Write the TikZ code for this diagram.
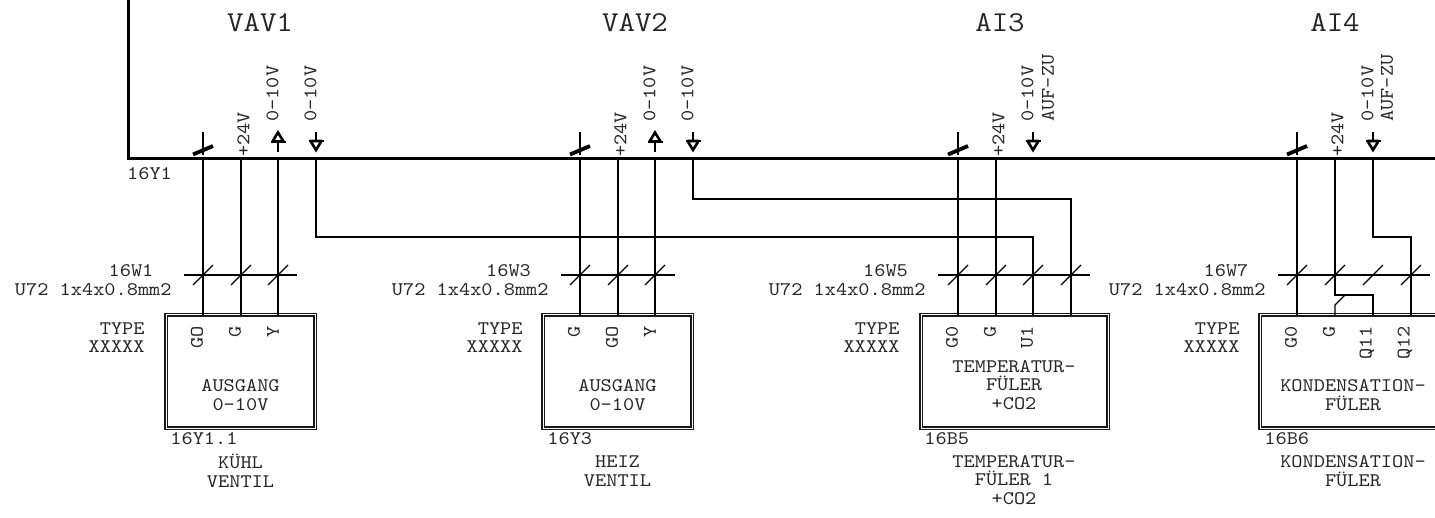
\documentclass[tikz,border=0pt]{standalone}
\usepackage{fontspec}
\setmonofont{Latin Modern Mono}[FakeStretch=1.11]
\usepackage{tikz}
\usetikzlibrary{calc, positioning}

\tikzset{
	gnd/.pic = {\draw[line width=0.9pt] (0,-27) -- (0,-4); \draw[line width=1.9pt] (-10,-4.5) -- (10,-13);},
	arrup/.pic = {\draw[wire] (0,-7) -- (0,-17); \draw[line width=1.3pt, fill=white, miter limit=2] (0,-26.5) -- (5.5,-17.5) -- (-5.5,-17.5) -- cycle; \draw[line width=1pt] (-7.5,-17) -- (7.5,-17);},
	arrdn/.pic = {\draw[wire] (0,-27) -- (0,-18); \draw[line width=1.3pt, fill=white, miter limit=2] (0,-9) -- (5.5,-18) -- (-5.5,-18) -- cycle; \draw[line width=1pt] (-7.5,-18) -- (7.5,-18);},
	slash/.pic = {\draw[thin wire] (-10,10) -- (10,-10);}
}

\begin{document}
\begin{tikzpicture}[x=0.5pt, y=-0.5pt]
	\tikzstyle{wire} = [line width=0.75pt]
	\tikzstyle{thin wire} = [line width=0.6pt]
	\tikzstyle{bus} = [line width=1.5pt]
	\tikzstyle{unit} = [draw=black!90, rectangle, double, line width=0.75pt, double distance=0.5pt, inner sep=0, outer sep=0, fill=white, anchor=north west]
	\tikzstyle{txt} = [draw=none, inner sep=0, align=center, text=black!85, font=\fontsize{9.6}{9.3}\selectfont\ttfamily]
	\tikzstyle{head} = [txt, font=\fontsize{14.4}{15}\selectfont\ttfamily]
	\tikzstyle{pin} = [txt, rotate=90, anchor=east]
	\tikzstyle{sig} = [txt, rotate=90, anchor=west]

	\clip[use as bounding box] (0,0) rectangle (1435,518);

	\coordinate (frame) at (128,0);
	\coordinate (corner) at (128,159);
	\coordinate (busend) at (1435,159);
	\draw[bus] (frame) -- (corner) -- (busend);

	\node[head] at (260,23) (t1) {VAV1};
	\node[head] at (635,23) (t2) {VAV2};
	\node[head] at (1000,23) (t3) {AI3};
	\node[head] at (1335,23) (t4) {AI4};
	\node[txt] at (149.5,174) (n0) {16Y1};

	\node[unit, minimum width=74.5, minimum height=56.5] at (166,315) (u1) {};
	\node[unit, minimum width=74.5, minimum height=56.5] at (543,315) (u2) {};
	\node[unit, minimum width=93.5, minimum height=56.5] at (921,315) (u3) {};
	\node[unit, minimum width=93.5, minimum height=56.5] at (1260,315) (u4) {};

	\coordinate (a1) at (203,159);  \coordinate (a2) at (241,159);  \coordinate (a3) at (278,159);  \coordinate (a4) at (316,159);
	\coordinate (b1) at (580,159);  \coordinate (b2) at (618,159);  \coordinate (b3) at (655,159);  \coordinate (b4) at (693,159);
	\coordinate (c1) at (958,159);  \coordinate (c2) at (996,159);  \coordinate (c3) at (1033,159);
	\coordinate (d1) at (1297,159); \coordinate (d2) at (1335,159); \coordinate (d3) at (1373,159);

	\coordinate (a1e) at (203,315); \coordinate (a2e) at (241,315); \coordinate (a3e) at (278,315);
	\coordinate (b1e) at (580,315); \coordinate (b2e) at (618,315); \coordinate (b3e) at (655,315);
	\coordinate (c1e) at (958,315); \coordinate (c2e) at (996,315); \coordinate (c3e) at (1033,315); \coordinate (c4e) at (1071,315);
	\coordinate (d1e) at (1297,315); \coordinate (d2e) at (1335,315); \coordinate (d3e) at (1373,315); \coordinate (d4e) at (1411,315);

	\draw[wire] (a1) -- (a1e);
	\draw[wire] (a2) -- (a2e);
	\draw[wire] (a3) -- (a3e);
	\draw[wire] (b1) -- (b1e);
	\draw[wire] (b2) -- (b2e);
	\draw[wire] (b3) -- (b3e);
	\draw[wire] (c1) -- (c1e);
	\draw[wire] (c2) -- (c2e);
	\draw[wire] (d1) -- (d1e);
	\draw[wire] (a4) |- (1033,237) -- (c3e);
	\draw[wire] (b4) |- (1071,199) -- (c4e);
	\draw[wire] (d3) |- (1411,237) -- (d4e);
	\draw[wire] (d2) |- (1373,295) -- (d3e);
	\draw[thin wire] (d2e) -- (1335,305) -- (1345,295);

	\pic at (a1) {gnd};
	\pic at (b1) {gnd};
	\pic at (c1) {gnd};
	\pic at (d1) {gnd};
	\pic at (a3) {arrup};
	\pic at (b3) {arrup};
	\pic at (a4) {arrdn};
	\pic at (b4) {arrdn};
	\pic at (c3) {arrdn};
	\pic at (d3) {arrdn};

	\node[sig] at (243.5,157) (a2s) {+24V};
	\node[sig] at (272.5,122) (a3s) {0-10V};
	\node[sig] at (310.5,122) (a4s) {0-10V};
	\node[sig] at (620.5,157) (b2s) {+24V};
	\node[sig] at (649.5,122) (b3s) {0-10V};
	\node[sig] at (687.5,122) (b4s) {0-10V};
	\node[sig] at (998.5,157) (c2s) {+24V};
	\node[sig] at (1027.5,122) (c3s) {0-10V};
	\node[sig] at (1048,122) (c3z) {AUF-ZU};
	\node[sig] at (1337.5,157) (d2s) {+24V};
	\node[sig] at (1367.5,122) (d3s) {0-10V};
	\node[sig] at (1387,122) (d3z) {AUF-ZU};

	\coordinate (k1l) at (184,275);   \coordinate (k1r) at (297,275);
	\coordinate (k2l) at (561,275);   \coordinate (k2r) at (675,275);
	\coordinate (k3l) at (938,275);   \coordinate (k3r) at (1090,275);
	\coordinate (k4l) at (1278,275);  \coordinate (k4r) at (1430,275);
	\draw[thin wire] (k1l) -- (k1r);
	\draw[thin wire] (k2l) -- (k2r);
	\draw[thin wire] (k3l) -- (k3r);
	\draw[thin wire] (k4l) -- (k4r);
	\pic at (203,275) {slash};
	\pic at (241,275) {slash};
	\pic at (278,275) {slash};
	\pic at (580,275) {slash};
	\pic at (618,275) {slash};
	\pic at (655,275) {slash};
	\pic at (958,275) {slash};
	\pic at (996,275) {slash};
	\pic at (1033,275) {slash};
	\pic at (1071,275) {slash};
	\pic at (1297,275) {slash};
	\pic at (1335,275) {slash};
	\pic at (1373,275) {slash};
	\pic at (1411,275) {slash};

	\node[txt] at (131,271) (w1) {16W1};
	\node[txt] at (508.5,271) (w3) {16W3};
	\node[txt] at (885.5,271) (w5) {16W5};
	\node[txt] at (1226,271) (w7) {16W7};
	\node[txt, anchor=east] at (172,290) (c1t) {U72 1x4x0.8mm2};
	\node[txt, anchor=east] at (549,290) (c2t) {U72 1x4x0.8mm2};
	\node[txt, anchor=east] at (926,290) (c3t) {U72 1x4x0.8mm2};
	\node[txt, anchor=east] at (1266,290) (c4t) {U72 1x4x0.8mm2};
	\node[txt, align=right, anchor=east] at (145,337.5) (y1) {TYPE\\XXXXX};
	\node[txt, align=right, anchor=east] at (523,337.5) (y2) {TYPE\\XXXXX};
	\node[txt, align=right, anchor=east] at (900,337.5) (y3) {TYPE\\XXXXX};
	\node[txt, align=right, anchor=east] at (1240,337.5) (y4) {TYPE\\XXXXX};

	\node[pin] at (197,326) (p11) {GO};
	\node[pin] at (235,326) (p12) {G};
	\node[pin] at (273,326) (p13) {Y};
	\node[pin] at (574,326) (p21) {G};
	\node[pin] at (612,326) (p22) {GO};
	\node[pin] at (650,326) (p23) {Y};
	\node[pin] at (952,326) (p31) {G0};
	\node[pin] at (990,326) (p32) {G};
	\node[pin] at (1027,326) (p33) {U1};
	\node[pin] at (1291,326) (p41) {G0};
	\node[pin] at (1329,326) (p42) {G};
	\node[pin] at (1367,326) (p43) {Q11};
	\node[pin] at (1405,326) (p44) {Q12};

	\node[txt] at (240.5,395) (u1t) {AUSGANG\\0-10V};
	\node[txt] at (617.5,395) (u2t) {AUSGANG\\0-10V};
	\node[txt] at (1014,385) (u3t) {TEMPERATUR-\\FÜLER\\+CO2};
	\node[txt] at (1353,395) (u4t) {KONDENSATION-\\FÜLER};

	\node[txt, anchor=west] at (170,439) (id1) {16Y1.1};
	\node[txt, anchor=west] at (547,439) (id2) {16Y3};
	\node[txt, anchor=west] at (924,439) (id3) {16B5};
	\node[txt, anchor=west] at (1264,439) (id4) {16B6};

	\node[txt] at (240.5,471) (f1) {KÜHL\\VENTIL};
	\node[txt] at (617.5,471) (f2) {HEIZ\\VENTIL};
	\node[txt] at (1014,480) (f3) {TEMPERATUR-\\FÜLER 1\\+CO2};
	\node[txt] at (1353,471) (f4) {KONDENSATION-\\FÜLER};
\end{tikzpicture}
\end{document}
